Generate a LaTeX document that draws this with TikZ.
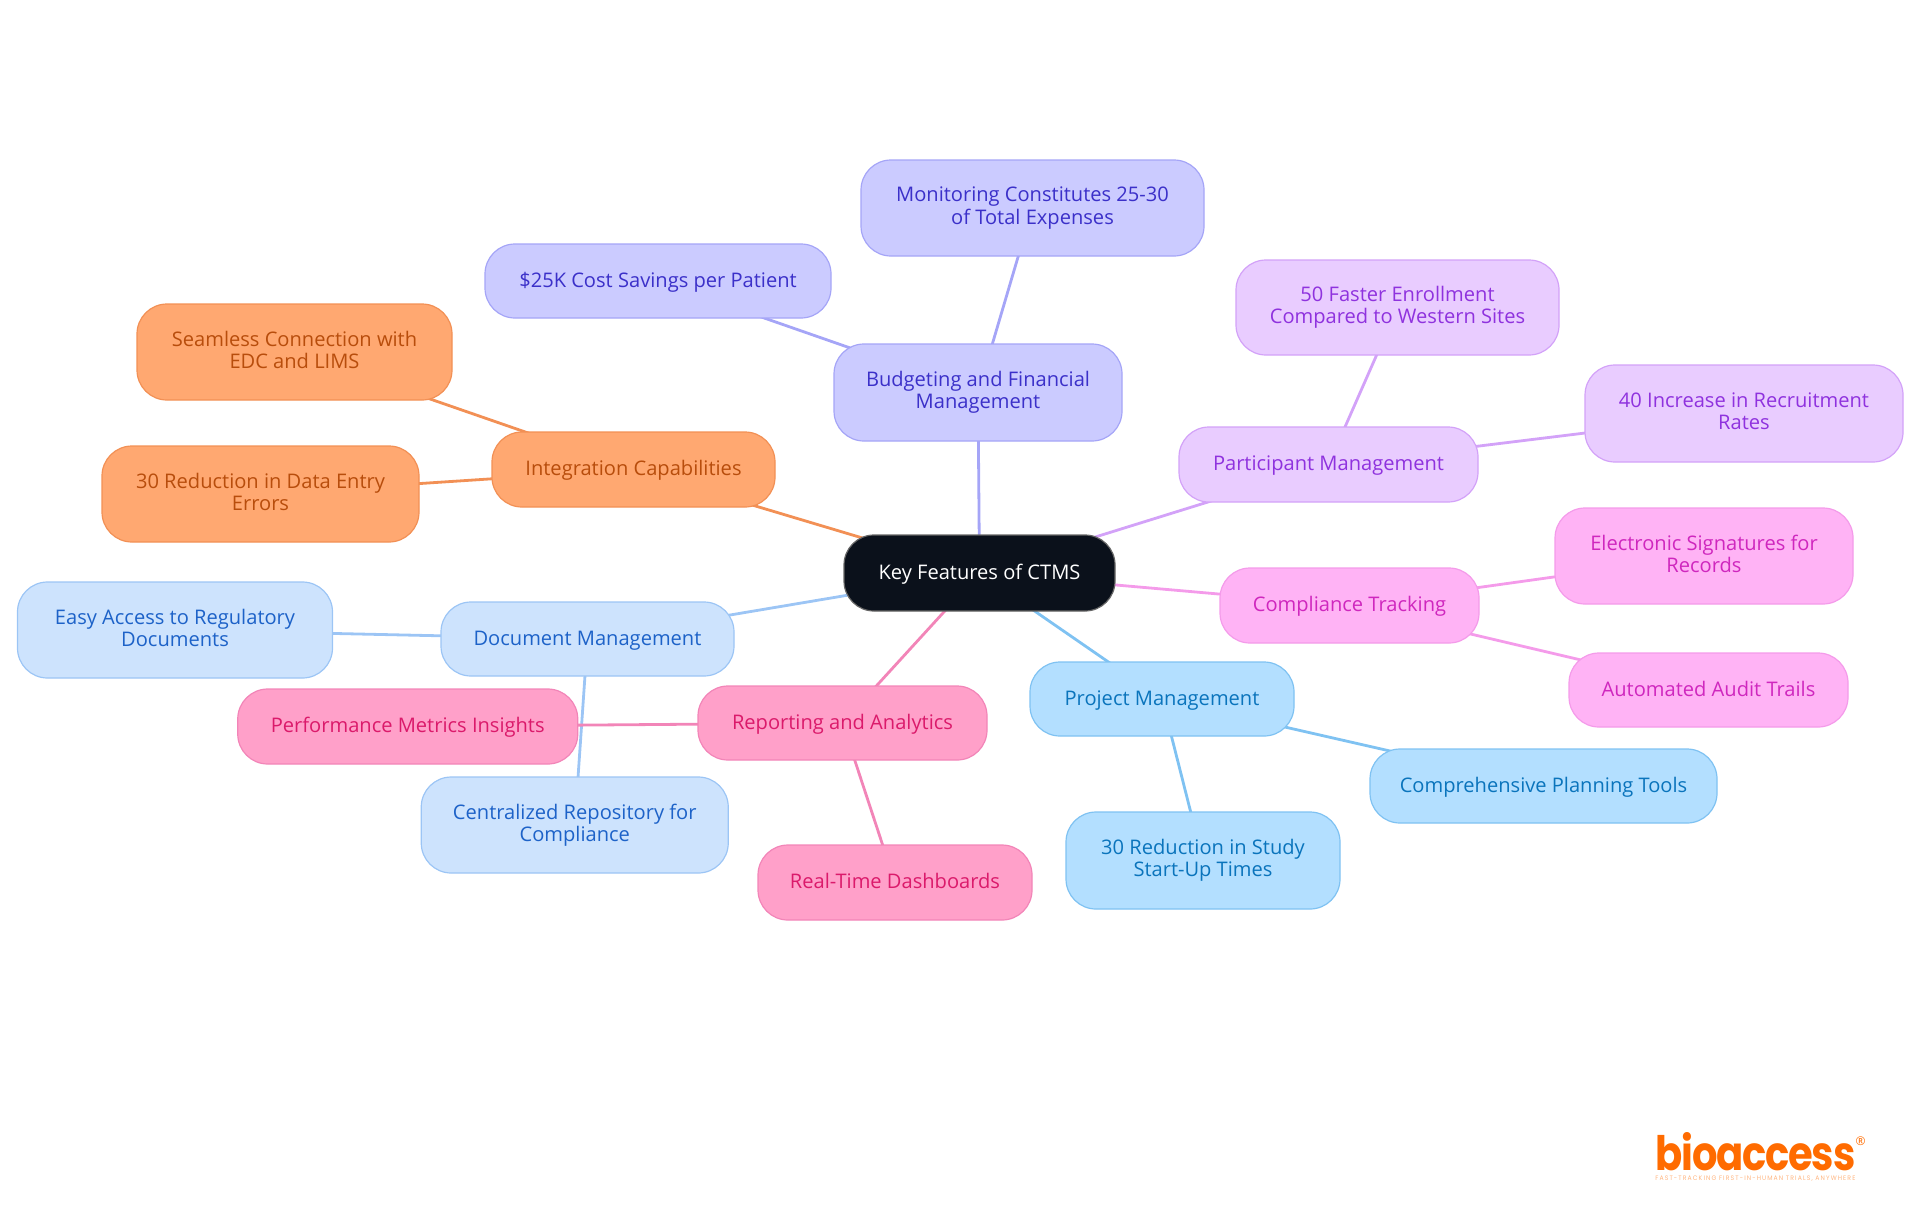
\documentclass[tikz,border=0pt]{standalone}
\usepackage{fontspec}
\setmainfont{Open Sans}
\newfontfamily\logofont[LetterSpace=-3]{Poppins}
\newfontfamily\tagfont[LetterSpace=18]{Poppins}
\usetikzlibrary{backgrounds}
\newcommand{\boxstrut}{\rule[-2.36pt]{0pt}{11.2pt}}
\definecolor{rootfill}{HTML}{0B111B}
\definecolor{indF}{HTML}{CBCBFF}\definecolor{indD}{HTML}{A5A5F7}\definecolor{indT}{HTML}{3B30C9}
\definecolor{oraF}{HTML}{FFA871}\definecolor{oraD}{HTML}{F29055}\definecolor{oraT}{HTML}{B84D0C}
\definecolor{bluF}{HTML}{CDE3FD}\definecolor{bluD}{HTML}{9CC5F5}\definecolor{bluT}{HTML}{1D62C8}
\definecolor{pnkF}{HTML}{FFA0C9}\definecolor{pnkD}{HTML}{F285B8}\definecolor{pnkT}{HTML}{DB1A6B}
\definecolor{skyF}{HTML}{B3DFFF}\definecolor{skyD}{HTML}{7FC2F2}\definecolor{skyT}{HTML}{0A74BC}
\definecolor{fucF}{HTML}{FFB3F5}\definecolor{fucD}{HTML}{F49BEA}\definecolor{fucT}{HTML}{CF27BE}
\definecolor{purF}{HTML}{E9CCFF}\definecolor{purD}{HTML}{D3A2F8}\definecolor{purT}{HTML}{8F32DE}
\definecolor{logoC}{HTML}{FF6B00}
\tikzset{
  x=0.5pt,y=-0.5pt,
  box/.style 2 args={rounded corners=15pt,inner sep=0pt,align=center,line width=0.6pt,
    minimum width=#1*0.5pt,minimum height=#2*0.5pt,
    font=\fontsize{10.05}{11.2}\selectfont,
    execute at begin node={\boxstrut},execute at end node={\boxstrut}},
  theme/.style={draw=#1D,fill=#1F,text=#1T},
  link/.style={line width=1.4pt,draw=#1D},
  rootbox/.style={draw=black!60,fill=rootfill,text=white}
}
\begin{document}
\begin{tikzpicture}
\useasboundingbox (0,0) rectangle (1920,1215);
\node[box={271}{76},rootbox] (root) at (979.5,573) {Key Features of CTMS};
\node[box={288}{97},theme=ind] (bud) at (978,392.5) {Budgeting and Financial\\Management};
\node[box={343}{96},theme=ind] (mon) at (1032.5,208) {Monitoring Constitutes 25-30\\of Total Expenses};
\node[box={346}{74},theme=ind] (sav) at (658,281) {\$25K Cost Savings per Patient};
\node[box={283}{75},theme=ora] (int) at (633.5,469.5) {Integration Capabilities};
\node[box={315}{96},theme=ora] (sea) at (294.5,352) {Seamless Connection with\\EDC and LIMS};
\node[box={317}{96},theme=ora] (red) at (260.5,494) {30 Reduction in Data Entry\\Errors};
\node[box={293}{74},theme=blu] (doc) at (587.5,639) {Document Management};
\node[box={315}{96},theme=blu] (easy) at (175,630) {Easy Access to Regulatory\\Documents};
\node[box={307}{96},theme=blu] (cen) at (574.75,825) {Centralized Repository for\\Compliance};
\node[box={289}{74},theme=pnk] (rep) at (842.5,723) {Reporting and Analytics};
\node[box={340}{75},theme=pnk] (perf) at (407.75,726.5) {Performance Metrics Insights};
\node[box={274}{75},theme=pnk] (rt) at (895,882.5) {Real-Time Dashboards};
\node[box={264}{74},theme=sky] (proj) at (1162,699) {Project Management};
\node[box={274}{97},theme=sky] (st) at (1203,860.5) {30 Reduction in Study\\Start-Up Times};
\node[box={347}{74},theme=sky] (comp) at (1543.5,786) {Comprehensive Planning Tools};
\node[box={259}{75},theme=fuc] (ct) at (1349.5,605.5) {Compliance Tracking};
\node[box={298}{96},theme=fuc] (es) at (1704,556) {Electronic Signatures for\\Records};
\node[box={279}{74},theme=fuc] (au) at (1708.5,690) {Automated Audit Trails};
\node[box={299}{75},theme=pur] (pm) at (1328.5,464.5) {Participant Management};
\node[box={323}{95},theme=pur] (ff) at (1397.5,307.5) {50 Faster Enrollment\\Compared to Western Sites};
\node[box={318}{97},theme=pur] (ri) at (1744,413.5) {40 Increase in Recruitment\\Rates};
\begin{scope}[on background layer]
\draw[link=blu] (root.center) -- (doc.center);
\draw[link=blu] (doc.center) -- (easy.center);
\draw[link=blu] (doc.center) -- (cen.center);
\draw[link=ind] (root.center) -- (bud.center);
\draw[link=ind] (bud.center) -- (mon.center);
\draw[link=ind] (bud.center) -- (sav.center);
\draw[link=ora] (root.center) -- (int.center);
\draw[link=ora] (int.center) -- (sea.center);
\draw[link=ora] (int.center) -- (red.center);
\draw[link=pnk] (root.center) -- (rep.center);
\draw[link=pnk] (rep.center) -- (perf.center);
\draw[link=pnk] (rep.center) -- (rt.center);
\draw[link=sky] (root.center) -- (proj.center);
\draw[link=sky] (proj.center) -- (st.center);
\draw[link=sky] (proj.center) -- (comp.center);
\draw[link=fuc] (root.center) -- (ct.center);
\draw[link=fuc] (ct.center) -- (es.center);
\draw[link=fuc] (ct.center) -- (au.center);
\draw[link=pur] (root.center) -- (pm.center);
\draw[link=pur] (pm.center) -- (ff.center);
\draw[link=pur] (pm.center) -- (ri.center);
\end{scope}
\node[inner sep=0pt,anchor=base west,text=logoC,font=\logofont\bfseries\fontsize{20}{20}\selectfont] (logo) at (1655,1170) {\resizebox{100pt}{19pt}{bioaccess}};
\node[inner sep=0pt,text=logoC,font=\fontsize{6}{6}\selectfont] (reg) at (1860.5,1141.5) {®};
\node[inner sep=0pt,anchor=base west,text=logoC!50,font=\tagfont\fontsize{3}{3}\selectfont] (tag) at (1655,1180) {\resizebox{100pt}{2.3pt}{FAST-TRACKING FIRST-IN-HUMAN TRIALS, ANYWHERE}};
\end{tikzpicture}
\end{document}
